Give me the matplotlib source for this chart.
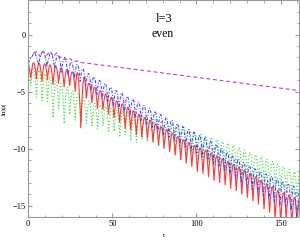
import numpy as np
import matplotlib
matplotlib.use("Agg")
import matplotlib.pyplot as plt
from matplotlib.ticker import MultipleLocator
from matplotlib.path import Path
from matplotlib.patches import PathPatch

plt.rcParams['font.family'] = ['Liberation Serif', 'DejaVu Serif']

# ---------------- data ----------------
# red solid: arch tops and spike bottoms
red_top_t = [0, 3.2, 6.5, 9.8, 13.1, 16.4, 19.7, 23.0, 26.3, 29.6, 32.9, 36.2, 39.5,
             42.8, 46.1, 49.4, 52.7, 56.0, 59.3, 62.6, 65.9, 69.2, 72.5, 75.8, 79.1,
             82.4, 85.7, 89.0, 92.3, 95.6, 98.9, 102.2, 105.5, 108.8, 112.1, 115.4,
             118.7, 122.0, 125.3, 128.6, 131.9, 135.2, 138.5, 141.8, 145.1, 148.4,
             151.7, 155.0, 158.3, 161]
red_top_y = [-2.40, -2.45, -2.50, -2.55, -2.65, -2.75, -2.90, -3.05, -3.25, -3.50,
             -3.85, -4.25, -4.60, -4.90, -5.20, -5.50, -5.80, -6.05, -6.35, -6.65,
             -6.95, -7.25, -7.50, -7.80, -8.05, -8.30, -8.60, -8.90, -9.20, -9.45,
             -9.70, -9.90, -10.10, -10.35, -10.60, -10.85, -11.10, -11.35, -11.60,
             -11.85, -12.15, -12.45, -12.75, -13.05, -13.35, -13.65, -13.85, -14.05,
             -14.25, -14.40]
red_dip_t = [1.6, 4.85, 8.15, 11.45, 14.75, 18.05, 21.35, 24.65, 27.95, 31.25, 34.55,
             37.85, 41.15, 44.45, 47.75, 51.05, 54.35, 57.65, 60.95, 64.25, 67.55,
             70.85, 74.15, 77.45, 80.75, 84.05, 87.35, 90.65, 93.95, 97.25, 100.55,
             103.85, 107.15, 110.45, 113.75, 117.05, 120.35, 123.65, 126.95, 130.25,
             133.55, 136.85, 140.15, 143.45, 146.75, 150.05, 153.35, 156.65, 159.7]
red_dip_y = [-3.8, -3.9, -4.1, -4.0, -4.4, -4.3, -4.6, -4.5, -5.0, -8.2, -5.6, -6.0,
             -6.5, -6.6, -7.0, -7.3, -7.7, -8.2, -8.4, -8.8, -9.0, -9.1, -9.4, -9.7,
             -10.0, -10.3, -10.6, -11.0, -11.3, -11.6, -12.0, -12.2, -12.5, -12.8,
             -13.0, -13.2, -13.5, -13.7, -14.0, -14.3, -14.6, -14.9, -15.3, -15.6,
             -16.2, -16.5, -16.3, -16.8, -16.5]

# blue dash-dot
blue_top_t = [0, 3.8, 8.8, 13.7, 17.7, 21.7, 25.7, 29.2, 32.6, 35.9, 39.2, 42.5, 45.8,
              49.1, 52.4, 55.7, 59.0, 62.3, 65.6, 68.9, 72.2, 75.5, 78.8, 82.1, 85.4,
              88.7, 92.0, 95.3, 98.6, 101.9, 105.2, 108.5, 111.8, 115.1, 118.4, 121.7,
              125.0, 128.3, 131.6, 134.9, 138.2, 141.5, 144.8, 148.1, 151.4, 154.7,
              158.0, 161]
blue_top_y = [-2.5, -1.5, -1.5, -1.6, -1.8, -2.1, -2.4, -2.6, -3.0, -3.4, -3.7, -4.0,
              -4.27, -4.6, -4.9, -5.1, -5.4, -5.65, -5.9, -6.2, -6.45, -6.7, -7.0,
              -7.25, -7.5, -7.8, -8.05, -8.3, -8.55, -8.8, -9.05, -9.35, -9.6, -9.95,
              -10.3, -10.6, -10.9, -11.2, -11.5, -11.75, -12.0, -12.2, -12.4, -12.6,
              -12.85, -13.1, -13.3, -13.5]
blue_dip_t = [6.3, 11.2, 15.7, 19.7, 23.7, 27.5, 30.9, 34.2, 37.5, 40.8, 44.1, 47.4,
              50.7, 54.0, 57.3, 60.6, 63.9, 67.2, 70.5, 73.8, 77.1, 80.4, 83.7, 87.0,
              90.3, 93.6, 96.9, 100.2, 103.5, 106.8, 110.1, 113.4, 116.7, 120.0, 123.3,
              126.6, 129.9, 133.2, 136.5, 139.8, 143.1, 146.4, 149.7, 153.0, 156.3, 159.6]
blue_dip_y = [-2.6, -2.8, -3.0, -3.3, -3.6, -3.8, -4.1, -4.5, -4.9, -5.3, -5.6, -5.9,
              -6.2, -6.5, -6.8, -7.1, -7.3, -7.6, -7.9, -8.2, -8.5, -8.8, -9.0, -9.3,
              -9.6, -9.9, -10.2, -10.4, -10.7, -11.0, -11.3, -11.6, -12.0, -12.3,
              -12.7, -13.0, -13.3, -13.6, -13.9, -14.2, -14.4, -14.7, -14.9, -15.1,
              -15.4, -16.2]

# green dotted
green_top_t = [0, 3.3, 6.6, 9.9, 13.2, 16.5, 19.8, 23.1, 26.4, 29.7, 33.0, 36.3, 39.6,
               42.9, 46.2, 49.5, 52.8, 56.1, 59.4, 62.7, 66.0, 69.3, 72.6, 75.9, 79.2,
               82.5, 85.8, 89.1, 92.4, 95.7, 99.0, 102.3, 105.6, 108.9, 112.2, 115.5,
               118.8, 122.1, 125.4, 128.7, 132.0, 135.3, 138.6, 141.9, 145.2, 148.5,
               151.8, 155.1, 158.4, 161]
green_top_y = [-2.5, -2.9, -3.1, -3.4, -3.7, -4.0, -4.3, -4.6, -4.9, -5.2, -5.5, -5.8,
               -6.0, -6.15, -6.3, -6.45, -6.6, -6.7, -6.85, -6.95, -7.05, -7.15, -7.25,
               -7.4, -7.55, -7.7, -7.8, -7.95, -8.1, -8.3, -8.5, -8.7, -8.85, -9.0,
               -9.2, -9.35, -9.5, -9.7, -9.9, -10.1, -10.3, -10.5, -10.7, -10.9, -11.1,
               -11.3, -11.55, -11.8, -12.0, -12.2]
green_dip_t = [1.6, 4.9, 8.2, 11.5, 14.8, 18.1, 21.4, 24.7, 28.0, 31.3, 34.6, 37.9,
               41.2, 44.5, 47.8, 51.1, 54.4, 57.7, 61.0, 64.3, 67.6, 70.9, 74.2, 77.5,
               80.8, 84.1, 87.4, 90.7, 94.0, 97.3, 100.6, 103.9, 107.2, 110.5, 113.8,
               117.1, 120.4, 123.7, 127.0, 130.3, 133.6, 136.9, 140.2, 143.5, 146.8,
               150.1, 153.4, 156.7, 159.7]
green_dip_y = [-4.5, -5.5, -5.8, -6.0, -7.3, -6.5, -7.8, -7.0, -7.5, -7.6, -7.8, -8.0,
               -8.3, -8.0, -8.6, -8.5, -9.0, -8.8, -9.3, -9.5, -9.2, -9.4, -9.5, -9.8,
               -9.9, -10.0, -10.2, -10.3, -10.5, -10.6, -10.9, -11.0, -11.2, -11.4,
               -11.5, -11.7, -11.9, -12.1, -12.3, -12.5, -12.7, -12.9, -13.1, -13.3,
               -13.5, -13.7, -13.9, -14.1, -14.3]

# purple dashed: small bumps early, then straight
purple_t = [3, 5, 7, 9, 11, 13, 15, 17, 19, 21, 23, 25, 27, 29, 32, 35, 162]
purple_y = [-1.6, -1.5, -1.9, -1.45, -1.8, -1.45, -1.9, -1.6, -2.0, -1.9, -2.2, -2.1,
            -2.4, -2.3, -2.45, -2.5, -4.92]


def arches(tt, ty, dt, dy):
    # rounded arches between spikes: quadratic bezier whose apex is the top
    pts = sorted([(a, b, 'top') for a, b in zip(tt, ty)] +
                 [(a, b, 'dip') for a, b in zip(dt, dy)])
    verts = [pts[0][:2]]
    codes = [Path.MOVETO]
    i = 1
    while i < len(pts):
        p = pts[i]
        if p[2] == 'top' and i + 1 < len(pts) and pts[i - 1][2] == 'dip':
            q = pts[i + 1]
            cy = 2 * p[1] - 0.5 * (pts[i - 1][1] + q[1])
            verts += [(p[0], cy), q[:2]]
            codes += [Path.CURVE3, Path.CURVE3]
            i += 2
        else:
            verts.append(p[:2])
            codes.append(Path.LINETO)
            i += 1
    return Path(verts, codes)


fig = plt.figure(figsize=(3.0, 2.42), dpi=100)
ax = fig.add_axes([0.094, 0.103, 0.903, 0.895])

ax.add_patch(PathPatch(arches(green_top_t, green_top_y, green_dip_t, green_dip_y),
                       fill=False, edgecolor='#50e050', lw=0.9, ls=(0, (1, 1.6))))
ax.add_patch(PathPatch(arches(red_top_t, red_top_y, red_dip_t, red_dip_y),
                       fill=False, edgecolor='#ff3838', lw=0.8))
ax.add_patch(PathPatch(arches(blue_top_t, blue_top_y, blue_dip_t, blue_dip_y),
                       fill=False, edgecolor='#4040ff', lw=0.75,
                       ls=(0, (3, 1.5, 1, 1.5))))
ax.plot(purple_t, purple_y, color='#b048c0', lw=0.8, ls=(0, (3.5, 2.5)))

ax.set_xlim(0, 161)
ax.set_ylim(-16, 3)
ax.xaxis.set_major_locator(MultipleLocator(50))
ax.xaxis.set_minor_locator(MultipleLocator(10))
ax.yaxis.set_major_locator(MultipleLocator(5))
ax.yaxis.set_minor_locator(MultipleLocator(1))
ax.tick_params(which='both', direction='in', top=True, right=True,
               color='#999999', labelsize=6, pad=2)
ax.tick_params(which='major', length=3)
ax.tick_params(which='minor', length=1.8)
for s in ax.spines.values():
    s.set_color('#999999')
    s.set_linewidth(0.8)

ax.text(0.5, 0.9, 'l=3', transform=ax.transAxes, ha='center', va='baseline',
        fontsize=9)
ax.text(0.495, 0.831, 'even', transform=ax.transAxes, ha='center', va='baseline',
        fontsize=8.5)
ax.set_xlabel('t', fontsize=5, labelpad=4)
ax.set_ylabel('ln|ψ|', fontsize=5)
ax.yaxis.set_label_coords(-0.08, 0.5)

fig.savefig('out.png', dpi=100)
